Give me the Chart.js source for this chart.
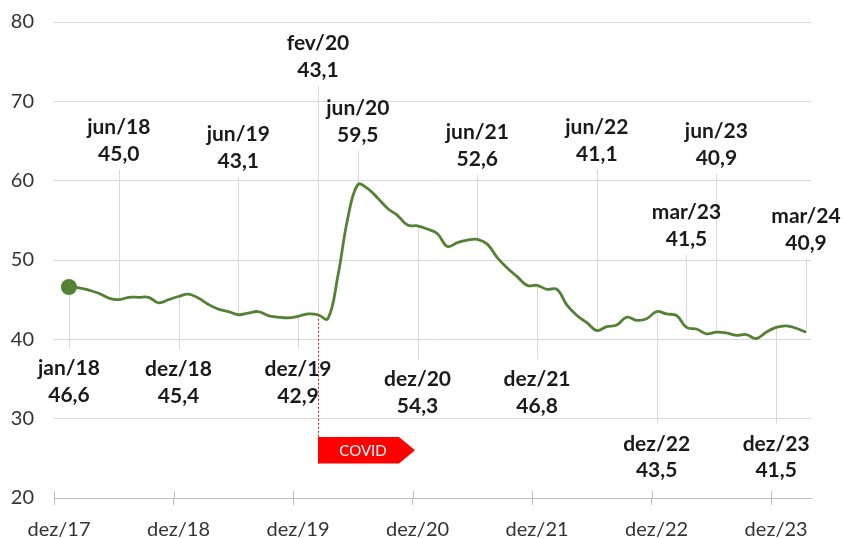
<!DOCTYPE html>
<html lang="pt">
<head>
    <meta charset="UTF-8">
    <title>Série mensal</title>
    <script src="https://cdn.jsdelivr.net/npm/chart.js"></script>
    <style>
        html, body { margin: 0; padding: 0; background: #fff; }
        .wrap { width: 844px; height: 538px; }
    </style>
</head>
<body>
    <div class="wrap"><canvas id="chart"></canvas></div>

    <script>
        // meses de dez/17 a mar/24
        const monthNames = ['jan', 'fev', 'mar', 'abr', 'mai', 'jun', 'jul', 'ago', 'set', 'out', 'nov', 'dez'];
        const labels = ['dez/17'];
        for (let yr = 18; yr <= 24; yr++) {
            for (let m = 0; m < 12; m++) {
                if (yr === 24 && m > 2) break;
                labels.push(monthNames[m] + '/' + yr);
            }
        }

        // valores (dez/17 sem dado)
        const series = [
            null,
            46.6, 46.5, 46.2, 45.8, 45.2, 45.0, 45.3, 45.3, 45.3, 44.6, 45.0, 45.4,
            45.7, 45.2, 44.4, 43.8, 43.5, 43.1, 43.3, 43.5, 43.0, 42.8, 42.7, 42.9,
            43.2, 43.1, 42.6, 48.0, 55.3, 59.5, 59.0, 57.8, 56.5, 55.6, 54.4, 54.3,
            53.9, 53.3, 51.7, 52.2, 52.5, 52.6, 52.0, 50.3, 49.0, 47.9, 46.8, 46.8,
            46.3, 46.3, 44.3, 43.0, 42.1, 41.1, 41.6, 41.8, 42.8, 42.4, 42.6, 43.5,
            43.2, 43.0, 41.5, 41.3, 40.7, 40.9, 40.8, 40.5, 40.6, 40.1, 40.9, 41.5,
            41.7, 41.4, 40.9
        ];

        const yTicks = [20, 30, 40, 50, 60, 70, 80];

        // destaques
        const calloutMonths = ['jan/18', 'jun/18', 'dez/18', 'jun/19', 'dez/19', 'fev/20', 'jun/20', 'dez/20',
                               'jun/21', 'dez/21', 'jun/22', 'dez/22', 'mar/23', 'jun/23', 'dez/23', 'mar/24'];
        const calloutValues = [46.6, 45.0, 45.4, 43.1, 42.9, 43.1, 59.5, 54.3,
                               52.6, 46.8, 41.1, 43.5, 41.5, 40.9, 41.5, 40.9];
        // altura do rótulo (em unidades do eixo y)
        const calloutAt = [36.3, 66.7, 36.2, 65.8, 36.2, 77.3, 69.1, 34.95,
                           66.1, 34.95, 66.7, 26.8, 56.0, 66.2, 26.8, 55.5];

        const eventMonth = 'fev/20';
        const eventText = 'COVID';

        const green = '#548235';
        const lineGap = 26.5;

        const fmt = v => v.toFixed(1).replace('.', ',');

        const callouts = {
            id: 'callouts',
            beforeDatasetsDraw(chart) {
                const { ctx, scales: { x, y } } = chart;
                ctx.save();
                ctx.strokeStyle = '#d9d9d9';
                ctx.lineWidth = 1;
                calloutMonths.forEach((m, i) => {
                    const idx = labels.indexOf(m);
                    const px = Math.round(x.getPixelForValue(idx)) + 0.5;
                    const py = y.getPixelForValue(series[idx]);
                    const ly = y.getPixelForValue(calloutAt[i]);
                    ctx.beginPath();
                    if (ly < py) {
                        ctx.moveTo(px, ly + lineGap + 16);
                        ctx.lineTo(px, py);
                    } else {
                        ctx.moveTo(px, py);
                        ctx.lineTo(px, ly - 20);
                    }
                    ctx.stroke();
                });

                // linha pontilhada do evento
                const ei = labels.indexOf(eventMonth);
                const ex = Math.round(x.getPixelForValue(ei)) + 0.5;
                ctx.strokeStyle = '#ff0000';
                ctx.setLineDash([2, 2]);
                ctx.beginPath();
                ctx.moveTo(ex, y.getPixelForValue(series[ei]));
                ctx.lineTo(ex, y.getPixelForValue(24.35));
                ctx.stroke();
                ctx.restore();
            },
            afterDatasetsDraw(chart) {
                const { ctx, scales: { x, y } } = chart;
                ctx.save();

                // marcas acima do eixo x
                ctx.strokeStyle = '#bfbfbf';
                ctx.lineWidth = 1;
                for (let i = 0; i < labels.length; i += 12) {
                    const gx = Math.round(x.getPixelForValue(i - 0.5)) + 0.5;
                    ctx.beginPath();
                    ctx.moveTo(gx, y.bottom - 7);
                    ctx.lineTo(gx, y.bottom);
                    ctx.stroke();
                }

                // etiqueta COVID
                const ei = labels.indexOf(eventMonth);
                const ex = Math.round(x.getPixelForValue(ei));
                const top = y.getPixelForValue(27.7);
                const bot = y.getPixelForValue(24.35);
                ctx.fillStyle = '#ff0000';
                ctx.beginPath();
                ctx.moveTo(ex, top);
                ctx.lineTo(ex + 81, top);
                ctx.lineTo(ex + 97, (top + bot) / 2);
                ctx.lineTo(ex + 81, bot);
                ctx.lineTo(ex, bot);
                ctx.closePath();
                ctx.fill();
                ctx.fillStyle = '#ffffff';
                ctx.font = '15px Lato';
                ctx.textAlign = 'center';
                ctx.textBaseline = 'middle';
                ctx.fillText(eventText, ex + 45, (top + bot) / 2 + 1);

                // rótulos
                ctx.fillStyle = '#1a1a1a';
                ctx.font = 'bold 21px Lato';
                calloutMonths.forEach((m, i) => {
                    const idx = labels.indexOf(m);
                    const px = x.getPixelForValue(idx);
                    const ly = y.getPixelForValue(calloutAt[i]);
                    ctx.fillText(m, px, ly);
                    ctx.fillText(fmt(calloutValues[i]), px, ly + lineGap);
                });
                ctx.restore();
            }
        };

        Chart.defaults.font.family = 'Lato';

        new Chart(document.getElementById('chart').getContext('2d'), {
            type: 'line',
            data: {
                labels: labels,
                datasets: [{
                    data: series,
                    borderColor: green,
                    backgroundColor: green,
                    borderWidth: 2.8,
                    tension: 0.4,
                    pointRadius: ctx => ctx.dataIndex === 1 ? 8 : 0,
                    pointHoverRadius: 0,
                    pointBackgroundColor: green,
                    pointBorderWidth: 0
                }]
            },
            options: {
                responsive: true,
                maintainAspectRatio: false,
                animation: false,
                layout: { padding: { top: 22, right: 33, left: 0, bottom: 0 } },
                plugins: {
                    legend: { display: false },
                    tooltip: { enabled: false }
                },
                scales: {
                    x: {
                        offset: true,
                        afterFit: s => { s.height = 40; s.paddingLeft = 0; s.paddingRight = 0; },
                        grid: {
                            offset: true,
                            drawOnChartArea: false,
                            drawTicks: true,
                            tickLength: 7,
                            tickColor: ctx => ctx.index % 12 === 0 ? '#bfbfbf' : 'rgba(0,0,0,0)'
                        },
                        border: { display: true, color: '#bfbfbf', width: 1 },
                        ticks: {
                            autoSkip: false,
                            maxRotation: 0,
                            padding: 13,
                            color: '#333333',
                            font: { size: 20 },
                            callback: (v, i) => i % 12 === 0 ? labels[i] : ''
                        }
                    },
                    y: {
                        min: 20,
                        max: 80,
                        afterFit: s => { s.width = 54; s.paddingTop = 0; s.paddingBottom = 0; },
                        afterBuildTicks: s => { s.ticks = yTicks.map(v => ({ value: v })); },
                        grid: {
                            drawTicks: false,
                            color: ctx => ctx.tick && ctx.tick.value === 20 ? 'rgba(0,0,0,0)' : '#d9d9d9'
                        },
                        border: { display: false },
                        ticks: {
                            padding: 20,
                            color: '#333333',
                            font: { size: 20 }
                        }
                    }
                }
            },
            plugins: [callouts]
        });
    </script>
</body>
</html>
